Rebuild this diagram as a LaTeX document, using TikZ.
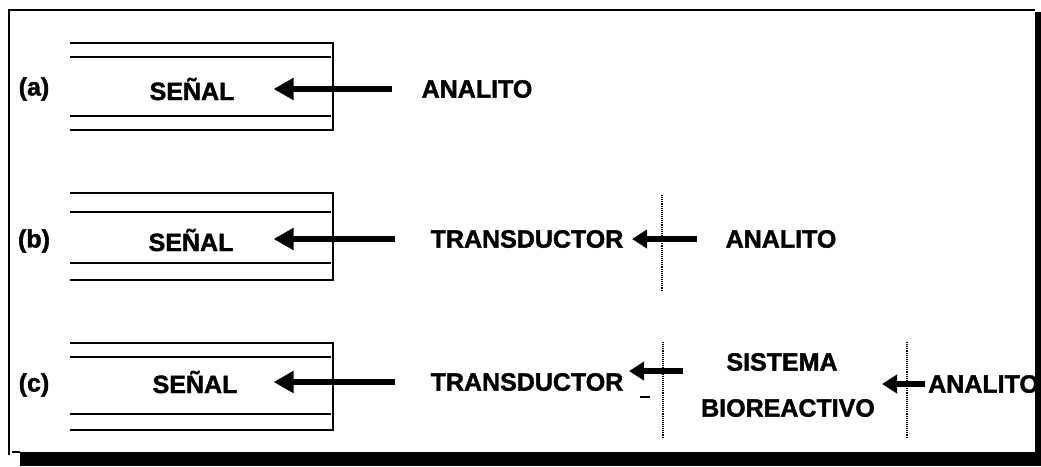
\documentclass[tikz,border=0pt]{standalone}
\usepackage{fontspec}
\setmainfont{Liberation Sans}
\newfontfamily\heavyfont[FakeBold=1.6]{Liberation Sans Bold}
\usetikzlibrary{arrows.meta}
\tikzset{
  lbl/.style={inner sep=0pt, font=\fontsize{25}{30}\heavyfont},
  thin rule/.style={line width=1.2pt},
  sep line/.style={line width=1.1pt, densely dotted},
  bigarrow/.style={line width=6pt, -{Triangle[length=20pt,width=21pt]}},
  smallarrow/.style={line width=6pt, -{Triangle[length=15pt,width=18pt]}},
}
\begin{document}
\begin{tikzpicture}[x=1pt,y=-1pt]
\useasboundingbox (0,0) rectangle (1041,466);

% outer frame with heavy right and bottom edges
\draw[thin rule] (9,455) -- (9,10) -- (1035,10);
\fill (1035,12) rectangle (1041,466);
\fill (20,452) rectangle (1041,466);
\draw[thin rule] (12,452) -- (20,452);

% signal boxes: four rules and a closing edge on the right
\foreach \ya/\yb/\yc/\yd in {43/57/116/130, 193/212/263/280, 343/357/414/430}{
  \draw[thin rule] (70,\ya) -- (333,\ya) -- (333,\yd) -- (70,\yd);
  \draw[thin rule] (70,\yb) -- (331,\yb);
  \draw[thin rule] (70,\yc) -- (331,\yc);
}

% row (a)
\node[lbl] (la) at (34,89) {(a)};
\node[lbl] (sa) at (192,89) {SEÑAL};
\node[lbl] (aa) at (477,89) {ANALITO};
\draw[bigarrow, shorten <=29.5pt, shorten >=39pt] (aa.west) -- (aa.west -| sa.east);

% row (b)
\node[lbl] (lb) at (34,241) {(b)};
\node[lbl] (sb) at (191,240) {SEÑAL};
\node[lbl] (tb) at (527,239) {TRANSDUCTOR};
\node[lbl] (ab) at (781,239) {ANALITO};
\draw[bigarrow, shorten <=35.5pt, shorten >=40pt] (tb.west) -- (tb.west -| sb.east);
\draw[smallarrow, shorten <=28pt, shorten >=8.5pt] (ab.west) -- (ab.west -| tb.east);
\draw[sep line] (662,195) -- (662,290);

% row (c)
\node[lbl] (lc) at (34,385) {(c)};
\node[lbl] (sc) at (195,382) {SEÑAL};
\node[lbl] (tc) at (527,382) {TRANSDUCTOR};
\node[lbl] (sis) at (782,362) {SISTEMA};
\node[lbl] (bio) at (788,408) {BIOREACTIVO};
\node[lbl, anchor=west] (ac) at (928,384) {ANALITO};
\draw[bigarrow, shorten <=35.5pt, shorten >=36pt] (tc.west) -- (tc.west -| sc.east);
\draw[smallarrow, shorten <=18pt, shorten >=5.5pt] (bio.west |- sis.south) -- (tc.east |- sis.south);
\draw[smallarrow, shorten <=3pt, shorten >=7pt] (ac.west) -- (ac.west -| bio.east);
\draw[thin rule] (640,397) -- (650,397);
\draw[sep line] (663,342) -- (663,437);
\draw[sep line] (907,342) -- (907,437);

% right edge of the frame drawn over the clipped label
\fill (1036,330) rectangle (1041,466);
\end{tikzpicture}
\end{document}
